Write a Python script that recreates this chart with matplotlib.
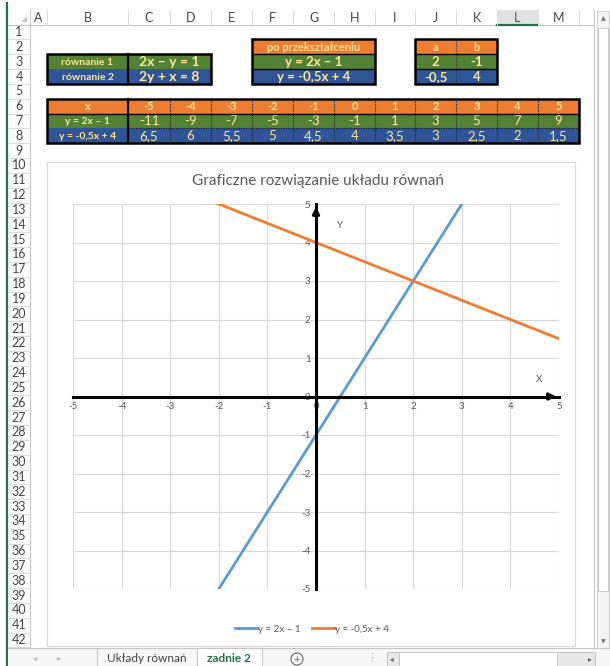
import matplotlib
matplotlib.use("Agg")
import matplotlib.pyplot as plt
from matplotlib.patches import Rectangle, Circle

plt.rcParams['font.family'] = ['Lato', 'DejaVu Sans']
plt.rcParams['axes.unicode_minus'] = False

# spreadsheet data
x_vals = [-5, -4, -3, -2, -1, 0, 1, 2, 3, 4, 5]
y_line1 = [-11, -9, -7, -5, -3, -1, 1, 3, 5, 7, 9]
y_line2 = [6.5, 6, 5.5, 5, 4.5, 4, 3.5, 3, 2.5, 2, 1.5]
eq_names = ["równanie 1", "równanie 2"]
eq_forms = ["2x – y = 1", "2y + x = 8"]
eq_solved = ["y = 2x – 1", "y = -0,5x + 4"]
coef_a = [2, -0.5]
coef_b = [-1, 4]
col_letters = ["A", "B", "C", "D", "E", "F", "G", "H", "I", "J", "K", "L", "M"]
sheet_tabs = ["Układy równań", "zadnie 2"]

ORANGE = "#ED7D31"
GREEN = "#548235"
BLUE = "#2F5597"
CELL_TXT = "#FFE699"
GRAY_TXT = "#595959"

col_edges = [30, 47, 128, 170, 211, 252, 293, 334, 375, 415, 456, 497, 538, 579, 594]
ROW0 = 24.6
ROWH = 14.83


def rt(k):
    # top pixel of spreadsheet row k
    return ROW0 + (k - 1) * ROWH


def fmt(v):
    return ("%g" % v).replace(".", ",")


fig = plt.figure(figsize=(6.1, 6.66), dpi=100)
bg = fig.add_axes([0, 0, 1, 1])
bg.set_xlim(0, 610)
bg.set_ylim(666, 0)
bg.axis("off")


def cell(x0, x1, r0, r1, color, text, size, bold=True):
    y0, y1 = rt(r0), rt(r1 + 1)
    bg.add_patch(Rectangle((x0, y0), x1 - x0, y1 - y0, facecolor=color, edgecolor="none", zorder=2))
    bg.text((x0 + x1) / 2, (y0 + y1) / 2 + 0.5, text, ha="center", va="center", fontsize=size,
            color=CELL_TXT, fontweight="bold" if bold else "normal", zorder=4)


def outline(x0, x1, r0, r1, lw=1.8):
    y0, y1 = rt(r0), rt(r1 + 1)
    bg.add_patch(Rectangle((x0, y0), x1 - x0, y1 - y0, facecolor="none", edgecolor="black", lw=lw, zorder=5))


# window frame
bg.plot([7, 7], [3, 666], color="#217346", lw=1.6)
bg.plot([8, 594], [25, 25], color="#C6C6C6", lw=0.8)
bg.plot([30, 30], [10, 647], color="#C6C6C6", lw=0.8)
bg.plot([594, 594], [10, 647], color="#C6C6C6", lw=0.8)
bg.text(24, 19, "◢", ha="center", va="center", fontsize=6, color="#C8C8C8")

# column headers
bg.add_patch(Rectangle((497, 10), 41, 15, facecolor="#E2E2E2", edgecolor="none"))
bg.plot([497, 538], [24.5, 24.5], color="#217346", lw=1.6)
for i, letter in enumerate(col_letters):
    cx = (col_edges[i] + col_edges[i + 1]) / 2
    bg.text(cx, 17.5, letter, ha="center", va="center", fontsize=9,
            color="#217346" if letter == "L" else "#444444")
    bg.plot([col_edges[i + 1], col_edges[i + 1]], [10, 25], color="#DADADA", lw=0.7)

# row headers
for k in range(1, 43):
    yc = rt(k) + ROWH / 2
    bg.text(19, yc, str(k), ha="center", va="center", fontsize=9, color="#444444")
    bg.plot([8, 30], [rt(k + 1), rt(k + 1)], color="#DADADA", lw=0.7)

# equations table
for r in range(2):
    color = GREEN if r == 0 else BLUE
    cell(col_edges[1], col_edges[2], 3 + r, 3 + r, color, eq_names[r], 7.5)
    cell(col_edges[2], col_edges[4], 3 + r, 3 + r, color, eq_forms[r], 10)
outline(col_edges[1], col_edges[4], 3, 4)
bg.plot([col_edges[2]] * 2, [rt(3), rt(5)], color="black", lw=1.6, zorder=5)

# transformed equations
cell(col_edges[5], col_edges[8], 2, 2, ORANGE, "po przekształceniu", 8)
for r in range(2):
    cell(col_edges[5], col_edges[8], 3 + r, 3 + r, GREEN if r == 0 else BLUE, eq_solved[r], 9.5)
outline(col_edges[5], col_edges[8], 2, 4)
for k in (3, 4):
    bg.plot([col_edges[5], col_edges[8]], [rt(k)] * 2, color="black", lw=1.0, zorder=5)

# coefficients
cell(col_edges[9], col_edges[10], 2, 2, ORANGE, "a", 8)
cell(col_edges[10], col_edges[11], 2, 2, ORANGE, "b", 8)
for r in range(2):
    color = GREEN if r == 0 else BLUE
    cell(col_edges[9], col_edges[10], 3 + r, 3 + r, color, fmt(coef_a[r]), 9.5)
    cell(col_edges[10], col_edges[11], 3 + r, 3 + r, color, fmt(coef_b[r]), 9.5)
outline(col_edges[9], col_edges[11], 2, 4)
for k in (3, 4):
    bg.plot([col_edges[9], col_edges[11]], [rt(k)] * 2, color="black", lw=1.0, zorder=5)
bg.plot([col_edges[10]] * 2, [rt(2), rt(5)], color="#333333", lw=0.8, ls=(0, (1, 1)), zorder=5)

# value table
cell(col_edges[1], col_edges[2], 6, 6, ORANGE, "x", 8)
cell(col_edges[1], col_edges[2], 7, 7, GREEN, eq_solved[0], 7.5)
cell(col_edges[1], col_edges[2], 8, 8, BLUE, eq_solved[1], 7.5)
for i, xv in enumerate(x_vals):
    x0, x1 = col_edges[2 + i], col_edges[3 + i]
    cell(x0, x1, 6, 6, ORANGE, fmt(xv), 8)
    cell(x0, x1, 7, 7, GREEN, fmt(y_line1[i]), 9.5, bold=False)
    cell(x0, x1, 8, 8, BLUE, fmt(y_line2[i]), 9.5, bold=False)
    if i > 0:
        bg.plot([x0, x0], [rt(6), rt(9)], color="#222222", lw=0.8, ls=(0, (1, 1)), zorder=5)
outline(col_edges[1], col_edges[13], 6, 8)
bg.plot([col_edges[2]] * 2, [rt(6), rt(9)], color="black", lw=1.6, zorder=5)
bg.plot([col_edges[1], col_edges[13]], [rt(7)] * 2, color="black", lw=1.0, zorder=5)
bg.plot([col_edges[2], col_edges[13]], [rt(8)] * 2, color="#222222", lw=0.9, ls=(0, (1, 1)), zorder=5)

# chart frame
bg.add_patch(Rectangle((47, 162), 528, 484, facecolor="white", edgecolor="#D9D9D9", lw=0.9, zorder=6))

# vertical scrollbar
bg.add_patch(Rectangle((597, 11), 12, 638, facecolor="#F4F4F4", edgecolor="#D0D0D0", lw=0.7))
bg.add_patch(Rectangle((598, 28), 10, 563, facecolor="white", edgecolor="#C8C8C8", lw=0.7))
bg.text(603, 19, "▲", ha="center", va="center", fontsize=4.5, color="#777777")
bg.text(603, 642, "▼", ha="center", va="center", fontsize=4.5, color="#777777")

# sheet tab bar
bg.add_patch(Rectangle((8, 648), 602, 18, facecolor="#F7F7F7", edgecolor="none", zorder=7))
bg.plot([8, 610], [648, 648], color="#C6C6C6", lw=0.8, zorder=8)
bg.add_patch(Rectangle((197, 648), 65, 18, facecolor="white", edgecolor="#C6C6C6", lw=0.8, zorder=8))
bg.plot([97, 97], [648, 666], color="#C6C6C6", lw=0.8, zorder=8)
bg.text(35, 658, "◂", ha="center", va="center", fontsize=6, color="#B8B8B8", zorder=9)
bg.text(59, 658, "▸", ha="center", va="center", fontsize=6, color="#B8B8B8", zorder=9)
bg.text(147, 658, sheet_tabs[0], ha="center", va="center", fontsize=8.5, color="#444444", zorder=9)
bg.text(229, 658, sheet_tabs[1], ha="center", va="center", fontsize=8.5, color="#217346",
        fontweight="bold", zorder=9)
bg.add_patch(Circle((297, 659), 6, facecolor="none", edgecolor="#666666", lw=0.8, zorder=9))
bg.text(297, 659, "+", ha="center", va="center", fontsize=8, color="#666666", zorder=9)
bg.text(372, 658, "⋮", ha="center", va="center", fontsize=8, color="#B8B8B8", zorder=9)
bg.add_patch(Rectangle((387, 652), 208, 14, facecolor="#E8E8E8", edgecolor="#C6C6C6", lw=0.7, zorder=8))
bg.add_patch(Rectangle((399, 652), 158, 14, facecolor="white", edgecolor="#C6C6C6", lw=0.7, zorder=9))
bg.text(392, 659, "◂", ha="center", va="center", fontsize=5.5, color="#666666", zorder=9)
bg.text(590, 659, "▸", ha="center", va="center", fontsize=5.5, color="#666666", zorder=9)

# chart
fig.text(318 / 610, 1 - 181 / 666, "Graficzne rozwiązanie układu równań", ha="center", va="center",
         fontsize=11, color=GRAY_TXT, zorder=10)

ax = fig.add_axes([73 / 610, 1 - 589 / 666, 486 / 610, 385 / 666])
ax.set_zorder(10)
ax.set_facecolor("white")
ax.plot(x_vals, y_line1, color="#5B9BD5", lw=2.0, label=eq_solved[0])
ax.plot(x_vals, y_line2, color=ORANGE, lw=2.0, label=eq_solved[1])
ax.set_xlim(-5, 5)
ax.set_ylim(-5, 5)
ax.set_xticks(range(-5, 6))
ax.set_yticks(range(-5, 6))
ax.grid(True, color="#D9D9D9", lw=0.8)
ax.set_axisbelow(True)
ax.spines["left"].set_position("zero")
ax.spines["bottom"].set_position("zero")
ax.spines["top"].set_visible(False)
ax.spines["right"].set_visible(False)
for side in ("left", "bottom"):
    ax.spines[side].set_linewidth(2.2)
    ax.spines[side].set_color("black")
ax.tick_params(length=0, labelsize=7, labelcolor=GRAY_TXT, pad=4)
ax.annotate("", xy=(5, 0), xytext=(4.7, 0),
            arrowprops=dict(arrowstyle="-|>", color="black", lw=2, mutation_scale=10))
ax.annotate("", xy=(0, 5), xytext=(0, 4.6),
            arrowprops=dict(arrowstyle="-|>", color="black", lw=2, mutation_scale=10))
ax.text(0.5, 4.45, "Y", ha="center", va="center", fontsize=7, color=GRAY_TXT)
ax.text(4.6, 0.45, "X", ha="center", va="center", fontsize=7, color=GRAY_TXT)

leg = fig.legend(loc="center", bbox_to_anchor=(312 / 610, 1 - 629 / 666), ncol=2, frameon=False,
                 fontsize=7, handlelength=2.3, handletextpad=0.1, columnspacing=1.2)
for t in leg.get_texts():
    t.set_color(GRAY_TXT)

fig.savefig("out.png", dpi=100)
